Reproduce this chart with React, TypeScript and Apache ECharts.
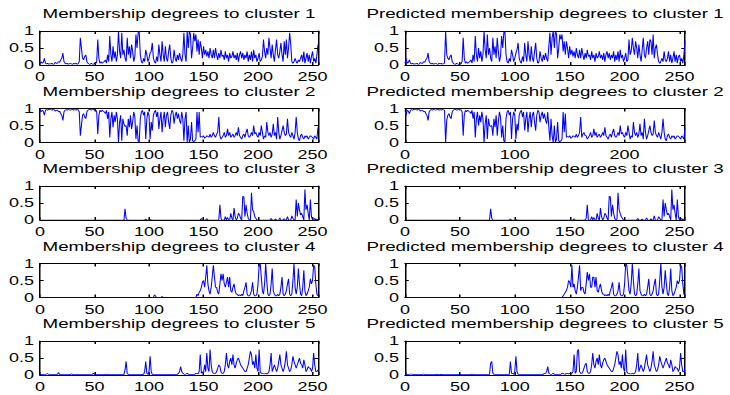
import React, { useEffect, useRef } from 'react';
import * as echarts from 'echarts';

const xMax = 255;
const yTicks = [0, 0.5, 1];
const titlesLeft = [
  'Membership degrees to cluster 1',
  'Membership degrees to cluster 2',
  'Membership degrees to cluster 3',
  'Membership degrees to cluster 4',
  'Membership degrees to cluster 5',
];
const titlesRight = [
  'Predicted membership degrees to cluster 1',
  'Predicted membership degrees to cluster 2',
  'Predicted membership degrees to cluster 3',
  'Predicted membership degrees to cluster 4',
  'Predicted membership degrees to cluster 5',
];
const xIntervalsLeft = [50, 50, 50, 50, 50];
const xIntervalsRight = [50, 100, 50, 50, 50];

const act1 = [
  .05,.1,.05,.08,.2,.05,.03,.05,.02,.04,.03,.05,.02,.03,.08,.05,
  .05,.1,.08,.15,.2,.35,.1,.05,.03,.05,.02,.04,.05,.03,.02,.05,
  .03,.05,.02,.04,.1,.8,.5,.2,.15,.25,.3,.1,.05,.03,.02,.05,
  .03,.02,.05,.03,.1,.75,.2,.05,.1,.05,.08,.1,.15,.05,.3,.1,
  .85,.3,.1,.55,.2,.4,.1,.3,1,.4,.2,.95,.3,.45,.2,.1,
  .8,.3,.55,.2,.6,.4,.1,.25,.9,.5,.95,1,.3,.1,.05,.2,
  .1,.45,.3,.1,.2,.35,.4,.65,.2,.1,.05,.25,.1,.6,.3,.1,
  .7,.3,.1,.55,.2,.1,.4,.6,.2,.05,.1,.45,.2,.1,.3,.15,
  .35,.2,.1,.3,.95,.3,.1,1,.5,1,.9,.2,.5,.95,.7,.9,
  .4,.75,.3,.7,.5,.2,.55,.3,.45,.25,.4,.2,.5,.3,.2,.45,
  .2,.5,.3,.15,.35,.2,.45,.25,.3,.15,.4,.2,.3,.1,.35,.2,
  .25,.4,.2,.3,.15,.35,.1,.3,.4,.2,.35,.15,.3,.2,.4,.1,
  .3,.15,.4,.1,.45,.2,.3,.1,.2,.35,.1,.15,.25,.75,.4,.2,
  .5,.3,.8,.5,.2,.6,.3,.1,.45,.75,.3,.2,.4,.65,.3,.1,
  .7,.3,.75,.2,.5,.95,.6,.1,.05,.1,.2,.1,.05,.15,.1,.2,
  .3,.1,.4,.05,.2,.35,.1,.3,.05,.25,.4,.1,.2,.05,.3,.6,
];
const act2 = [
  .95,.9,.95,.92,.8,.95,.97,.95,.98,.96,.97,.95,.98,.97,.92,.95,
  .95,.9,.92,.85,.8,.65,.9,.95,.97,.95,.98,.96,.95,.97,.98,.95,
  .97,.95,.98,.96,.9,.2,.5,.8,.85,.75,.7,.9,.95,.97,.98,.95,
  .97,.98,.95,.97,.9,.25,.8,.95,.9,.95,.92,.9,.85,.95,.7,.9,
  .15,.7,.9,.45,.8,.6,.9,.7,0,.6,.8,.05,.7,.55,.47,.5,
  .2,.7,.45,.8,.4,.6,.9,.75,.1,.5,.05,0,.7,.9,.95,.8,
  .9,.1,.7,.9,.8,.1,.6,.35,.8,.9,.95,.75,.9,.4,.7,.9,
  .3,.7,.9,.45,.8,.9,.6,.4,.8,.95,.9,.55,.8,.9,.7,.85,
  .65,.55,.9,.7,.05,.7,.9,0,.5,0,.1,.6,.05,.02,.05,.1,
  .9,.3,.9,.15,.18,.15,.2,.12,.15,.2,.18,.15,.25,.15,.2,.3,
  .2,.15,.25,.3,.75,.2,.1,.15,.2,.3,.15,.2,.4,.2,.3,.15,
  .2,.25,.15,.2,.3,.2,.45,.2,.15,.1,.2,.25,.15,.3,.4,.2,
  .15,.2,.3,.2,.5,.25,.3,.2,.15,.3,.2,.5,.3,.1,.2,.15,
  .6,.3,.2,.3,.15,.25,.55,.2,.3,.1,.75,.3,.1,.2,.35,.5,
  .3,.2,.25,.7,.3,.2,.15,.3,.2,.1,.3,.75,.3,.1,.05,.2,
  .25,.15,.1,.2,.15,.2,.1,.15,.2,.18,.15,.1,.2,.15,.1,.45,
];
const act3 = [
  0,0,0,0,0,0,0,0,0,0,0,0,0,0,0,0,
  0,0,0,0,0,0,0,0,0,0,0,0,0,0,0,0,
  0,0,0,0,0,0,0,0,0,0,0,0,0,0,0,0,
  0,0,0,0,0,0,0,0,0,0,0,0,0,0,0,0,
  0,0,0,0,0,0,0,0,0,0,0,0,0,0,.33,.05,
  0,0,0,0,0,0,0,0,0,0,0,0,0,0,0,0,
  0,.03,0,0,0,.02,0,0,0,0,0,0,0,0,0,0,
  0,0,0,0,0,0,0,0,0,0,0,0,0,0,0,0,
  0,0,0,0,0,0,0,0,0,0,0,0,0,0,0,0,
  0,0,0,0,.05,0,0,0,0,.04,0,0,0,0,0,0,
  0,0,0,0,0,.45,.05,0,0,0,.1,0,.08,0,0,.2,
  .05,0,.35,.1,0,.05,.2,.15,.05,0,.7,.68,.1,.45,.2,.05,
  0,0,.8,.3,.25,.1,.05,0,0,0,0,0,0,0,0,0,
  0,0,0,0,.05,0,0,0,.03,0,0,0,.06,0,0,0,
  .04,0,0,.1,0,0,0,.12,.05,0,0,.6,.1,.5,.3,.15,
  .2,.1,0,.9,.3,.45,.2,0,.6,.1,0,0,.05,0,.03,0,
];
const act4 = [
  0,0,0,0,0,0,0,0,0,0,0,0,0,0,0,0,
  0,0,0,0,0,0,0,0,0,0,0,0,0,0,0,0,
  0,0,0,0,0,0,0,0,0,0,0,0,0,0,0,0,
  0,0,0,0,0,0,0,0,0,0,0,0,0,0,0,0,
  0,0,0,0,0,0,0,0,0,0,0,0,0,0,0,0,
  0,0,0,0,0,0,0,0,0,0,0,0,0,0,0,0,
  0,0,0,0,0,0,0,0,0,.08,.04,0,0,0,0,0,
  .03,0,0,0,0,0,0,0,0,0,0,0,0,0,0,0,
  0,0,0,0,0,0,0,0,0,0,0,0,0,0,0,0,
  .1,.05,.15,.2,.3,.45,.5,.3,.6,.95,.4,.2,.1,.3,.6,.95,
  .6,.3,.3,.15,.1,.4,.7,.5,.7,.4,.3,.45,.6,.3,.6,.2,
  .15,.3,.4,.2,.1,.1,.05,.08,.05,.1,.05,.2,.3,.45,.1,.05,
  .05,.1,.2,.45,.1,.05,.05,.1,.4,.95,1,.6,.2,.1,.4,1,
  .5,.1,.05,.1,.4,.85,.2,.1,.05,.05,.1,.05,.1,.3,.6,.1,
  .05,.1,.2,.4,.55,.1,.05,.1,.5,1,.3,.1,.3,.85,.4,.1,
  .05,.3,.8,.2,.05,.1,.2,.3,.55,.4,.5,.95,.9,.4,.1,.05,
];
const act5 = [
  .01,.01,.02,.02,.02,.02,.03,.04,.02,.01,.01,.01,.01,.01,.01,.01,
  .02,.08,.02,.01,.01,.01,.01,.01,.01,.01,.01,.01,.01,.04,.01,.01,
  .01,.01,.01,.01,.01,.01,.01,.01,.01,.01,.01,.01,.01,.01,.01,.01,
  .02,.05,.02,.01,.01,.01,.01,.01,.01,.01,.01,.01,.01,.03,.01,.01,
  .01,.01,.01,.01,.01,.01,.01,.01,.01,.01,.01,.01,.01,.02,.15,.4,
  .05,.02,.01,.01,.01,.01,.01,.01,.01,.01,.01,.01,.01,.01,.02,.02,
  .1,.4,.05,.02,.1,.55,.1,.02,.02,.02,.02,.02,.02,.02,.02,.02,
  .02,.02,.02,.02,.02,.02,.02,.02,.02,.02,.02,.02,.02,.02,.02,.05,
  .1,.25,.1,.05,.03,.02,.03,.05,.02,.02,.02,.02,.02,.02,.02,.05,
  .05,.03,.1,.6,.05,.1,.05,.3,.1,.65,.2,.1,.75,.3,.1,.05,
  .05,.05,.1,.2,.3,.25,.1,.05,.05,.1,.3,.65,.3,.2,.4,.5,
  .3,.6,.3,.2,.35,.45,.5,.4,.3,.25,.2,.15,.1,.1,.2,.3,
  .5,.7,.6,.3,.4,.2,.6,.2,.1,.75,.1,.05,.05,.03,.03,.05,
  .03,.05,.1,.3,.65,.1,.2,.3,.2,.1,.2,.4,.6,.3,.2,.1,
  .2,.4,.7,.3,.2,.1,.15,.3,.55,.4,.3,.2,.3,.4,.5,.35,
  .3,.2,.45,.3,.1,.15,.25,.2,.2,.1,.2,.65,.3,.1,.1,.15,
];

const pred1 = [
  .05,.2,.05,.08,.15,.05,.03,.05,.02,.04,.03,.05,.02,.03,.08,.05,
  .05,.1,.08,.15,.2,.35,.1,.05,.03,.05,.02,.04,.05,.03,.02,.05,
  .03,.05,.02,.04,.05,1,.3,.2,.15,.25,.3,.1,.05,.03,.02,.05,
  .03,.02,.05,.03,.1,.8,.2,.05,.1,.05,.08,.1,.15,.05,.3,.1,
  .85,.3,.1,.5,.2,.4,.1,.3,1,.45,.2,.9,.3,.5,.2,.1,
  .8,.3,.55,.2,.8,.4,.1,.25,.85,.5,.95,1,.3,.1,.05,.2,
  .1,.45,.3,.1,.2,.35,.45,.65,.2,.1,.05,.25,.1,.65,.3,.1,
  .7,.3,.1,.55,.2,.1,.4,.65,.2,.05,.1,.4,.2,.1,.3,.15,
  .35,.2,.1,.55,.95,.3,.8,1,.5,1,.9,.2,.5,.9,.75,.9,
  .4,.7,.3,.7,.5,.2,.55,.3,.45,.25,.4,.2,.5,.3,.2,.45,
  .2,.5,.3,.15,.35,.2,.45,.25,.3,.15,.4,.2,.3,.1,.35,.2,
  .25,.4,.2,.3,.15,.35,.1,.3,.4,.2,.35,.15,.3,.2,.4,.1,
  .3,.15,.4,.1,.45,.2,.3,.1,.2,.35,.1,.15,.75,.3,.4,.8,
  .5,.3,.7,.5,.2,.6,.3,.1,.45,.8,.3,.2,.5,.7,.3,.75,
  .7,.3,.9,.2,.5,.6,.3,.1,.05,.1,.2,.1,.4,.15,.1,.2,
  .4,.1,.3,.05,.2,.4,.1,.3,.05,.25,.3,.1,.2,.05,.3,.7,
];
const pred2 = [
  .95,.8,.95,.92,.85,.95,.97,.95,.98,.96,.97,.95,.98,.97,.92,.95,
  .95,.9,.92,.85,.8,.65,.9,.95,.97,.95,.98,.96,.95,.97,.98,.95,
  .97,.95,.98,.96,.95,0,.65,.8,.85,.75,.7,.9,.95,.97,.98,.95,
  .97,.98,.95,.97,.9,.2,.8,.95,.9,.95,.92,.9,.85,.95,.7,.9,
  .15,.7,.9,.5,.8,.6,.9,.7,0,.55,.8,.1,.7,.5,.47,.5,
  .2,.7,.45,.8,.2,.6,.9,.75,.15,.5,.05,0,.7,.9,.95,.8,
  .9,.1,.7,.9,.8,.1,.55,.35,.8,.9,.95,.75,.9,.35,.7,.9,
  .3,.7,.9,.45,.8,.9,.6,.35,.8,.95,.9,.6,.8,.9,.7,.85,
  .65,.55,.9,.45,.05,.7,.2,0,.5,0,.1,.6,.05,.02,.05,.1,
  .9,.3,.85,.15,.18,.15,.2,.12,.15,.2,.18,.15,.25,.15,.2,.3,
  .75,.15,.25,.3,.2,.2,.1,.15,.2,.3,.15,.2,.4,.2,.3,.15,
  .2,.25,.15,.2,.3,.2,.45,.2,.15,.1,.2,.25,.15,.3,.4,.2,
  .15,.2,.3,.2,.5,.25,.3,.2,.15,.3,.2,.5,.3,.1,.2,.15,
  .6,.3,.2,.3,.15,.25,.55,.2,.3,.1,.7,.3,.1,.2,.35,.5,
  .3,.2,.25,.65,.3,.2,.15,.3,.2,.1,.3,.7,.3,.1,.05,.2,
  .25,.15,.1,.2,.15,.2,.1,.15,.2,.18,.15,.1,.2,.15,.1,.45,
];
const pred3 = [
  0,0,0,0,0,0,0,0,0,0,0,0,0,0,0,0,
  0,0,0,0,0,0,0,0,0,0,0,0,0,0,0,0,
  0,0,0,0,0,0,0,0,0,0,0,0,0,0,0,0,
  0,0,0,0,0,0,0,0,0,0,0,0,0,0,0,0,
  0,0,0,0,0,0,0,0,0,0,0,0,0,0,.33,.05,
  0,0,0,0,0,0,0,0,0,0,0,0,0,0,0,0,
  .03,0,0,0,0,.02,0,0,0,0,0,0,0,0,0,0,
  0,0,0,0,0,0,0,0,0,0,0,0,0,0,0,0,
  0,0,0,0,0,0,0,0,0,0,0,0,0,0,0,0,
  0,0,0,0,0,0,0,0,0,0,.04,0,0,0,0,0,
  0,0,0,0,0,.05,.45,0,0,0,.1,0,.08,0,0,.2,
  .05,0,.35,.1,0,.05,.2,.15,.05,0,.7,.68,.1,.45,.2,.05,
  0,0,.8,.3,.2,.1,.05,0,0,0,0,0,0,0,0,0,
  0,0,0,0,.05,0,0,0,.03,0,0,0,.06,0,0,0,
  .04,0,0,.12,0,0,0,.1,.05,0,0,.6,.1,.5,.3,.15,
  .2,.1,0,.9,.3,.45,.2,0,.6,.1,0,0,.05,0,.03,0,
];
const pred4 = [
  0,0,0,0,0,0,0,0,0,0,0,0,0,0,0,0,
  0,0,0,0,0,0,0,0,0,0,0,0,0,0,0,0,
  0,0,0,0,0,0,0,0,0,0,0,0,0,0,0,0,
  0,0,0,0,0,0,0,0,0,0,0,0,0,0,0,0,
  0,0,0,0,0,0,0,0,0,0,0,0,0,0,0,0,
  0,0,0,0,0,0,0,0,0,0,0,0,0,0,0,0,
  0,0,0,0,0,0,0,0,0,0,0,0,0,0,0,0,
  0,0,0,0,0,0,0,0,0,0,0,0,0,0,0,0,
  0,0,0,0,0,0,0,0,0,0,0,0,0,0,0,0,
  .05,.1,.15,.2,.3,.5,.45,.3,.95,.3,.4,.2,.1,.3,.6,.95,
  .2,.3,.3,.15,.1,.4,.75,.5,.7,.3,.3,.6,.6,.3,.6,.2,
  .15,.3,.4,.2,.1,.1,.05,.08,.05,.1,.05,.2,.3,.45,.1,.05,
  .05,.1,.2,.45,.1,.05,.05,.1,.4,1,.95,.6,.2,.1,.4,1,
  .5,.1,.05,.1,.4,.85,.2,.1,.05,.05,.1,.05,.1,.3,.55,.1,
  .05,.1,.2,.4,.55,.1,.05,.1,.5,1,.3,.1,.3,.8,.4,.1,
  .05,.3,.85,.2,.05,.1,.2,.3,.5,.4,.5,.95,.9,.4,.1,.05,
];
const pred5 = [
  .01,.01,.02,.02,.02,.03,.03,.02,.02,.01,.01,.01,.01,.01,.01,.01,
  .02,.03,.02,.01,.01,.01,.01,.01,.01,.01,.01,.01,.01,.02,.01,.01,
  .01,.02,.01,.01,.01,.01,.01,.01,.01,.01,.01,.01,.01,.01,.01,.01,
  .02,.02,.02,.01,.01,.01,.01,.01,.01,.01,.01,.01,.01,.03,.01,.01,
  .01,.01,.01,.01,.01,.01,.01,.01,.01,.01,.01,.01,.01,.02,.35,.4,
  .05,.02,.01,.01,.01,.01,.01,.01,.01,.01,.01,.01,.01,.01,.02,.02,
  .4,.05,.05,.02,.1,.55,.1,.02,.02,.02,.02,.02,.02,.02,.02,.02,
  .02,.02,.02,.02,.02,.02,.02,.02,.02,.02,.02,.02,.02,.02,.02,.05,
  .05,.1,.25,.05,.03,.02,.03,.05,.02,.02,.02,.02,.02,.02,.02,.05,
  .05,.03,.02,.05,.05,.03,.05,.05,.05,.1,.6,.05,.1,.7,.75,.1,
  .05,.05,.1,.2,.3,.35,.1,.05,.05,.1,.3,.65,.3,.2,.4,.5,
  .3,.6,.3,.2,.35,.45,.5,.4,.3,.25,.2,.15,.1,.1,.2,.3,
  .5,.7,.6,.3,.4,.2,.6,.2,.1,.75,.1,.05,.05,.03,.03,.05,
  .03,.05,.1,.3,.65,.1,.2,.3,.2,.1,.2,.4,.6,.3,.2,.1,
  .2,.4,.7,.3,.2,.1,.15,.3,.55,.4,.3,.2,.3,.4,.5,.35,
  .3,.2,.45,.3,.1,.15,.25,.2,.2,.1,.2,.65,.3,.1,.1,.15,
];

const leftSeries = [act1, act2, act3, act4, act5];
const rightSeries = [pred1, pred2, pred3, pred4, pred5];

export default function App() {
  const ref = useRef<HTMLDivElement>(null);
  const S = 1.5;
  useEffect(() => {
    if (!ref.current) return;
    const chart = echarts.init(ref.current, null, { renderer: 'svg' });
    const rowTops = [31, 108.5, 186, 263.5, 341];
    const H = 34;
    const cols = [
      { left: 40 / S, width: 278 / S },
      { left: 405 / S, width: 280 / S },
    ];
    const font = 'Liberation Sans, Arial, sans-serif';
    const grid: any[] = [];
    const xAxis: any[] = [];
    const yAxis: any[] = [];
    const series: any[] = [];
    const graphic: any[] = [];
    let g = 0;
    for (let r = 0; r < 5; r++) {
      for (let c = 0; c < 2; c++) {
        const col = cols[c];
        const data = c === 0 ? leftSeries[r] : rightSeries[r];
        const title = c === 0 ? titlesLeft[r] : titlesRight[r];
        const xInt = c === 0 ? xIntervalsLeft[r] : xIntervalsRight[r];
        grid.push({ left: col.left, top: rowTops[r], width: col.width, height: H, containLabel: false });
        const lineStyle = { color: '#000', width: 1 };
        const baseX = {
          gridIndex: g, type: 'value', min: 0, max: xMax, interval: xInt,
          splitLine: { show: false },
          axisLine: { show: true, onZero: false, lineStyle },
          axisTick: { show: true, inside: true, length: 3, lineStyle },
        };
        xAxis.push({
          ...baseX, position: 'bottom',
          axisLabel: {
            show: true, color: '#000', fontSize: 12, fontFamily: font, margin: 6,
            formatter: (v: number) => (v % xInt === 0 ? String(v) : ''),
          },
        });
        xAxis.push({ ...baseX, position: 'top', axisLabel: { show: false } });
        const baseY = {
          gridIndex: g, type: 'value', min: yTicks[0], max: yTicks[2], interval: yTicks[1],
          splitLine: { show: false },
          axisLine: { show: true, onZero: false, lineStyle },
          axisTick: { show: true, inside: true, length: 2.5, lineStyle },
        };
        yAxis.push({
          ...baseY, position: 'left',
          axisLabel: { show: true, color: '#000', fontSize: 12, fontFamily: font, margin: 4 },
        });
        yAxis.push({ ...baseY, position: 'right', axisLabel: { show: false } });
        series.push({
          type: 'line', xAxisIndex: 2 * g, yAxisIndex: 2 * g,
          data: data.map((v, i) => [i, v]),
          symbol: 'none', showSymbol: false, silent: true,
          lineStyle: { color: '#0000ff', width: 0.7 },
        });
        graphic.push({
          type: 'text', x: col.left + col.width / 2, y: rowTops[r] - 17, silent: true,
          style: { text: title, fill: '#000', fontSize: 12.5, fontFamily: font, align: 'center', verticalAlign: 'middle' },
        });
        g++;
      }
    }
    chart.setOption({ animation: false, backgroundColor: '#fff', grid, xAxis, yAxis, series, graphic });
    return () => chart.dispose();
  }, []);
  return (
    <div
      ref={ref}
      style={{
        position: 'fixed', left: 0, top: 0, width: 730 / S, height: 395,
        transform: `scaleX(${S})`, transformOrigin: '0 0', background: '#fff',
      }}
    />
  );
}
